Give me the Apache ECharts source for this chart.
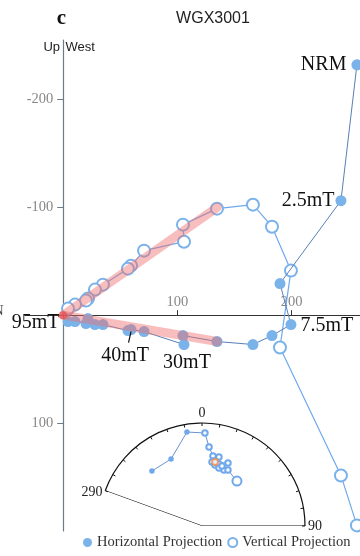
<!DOCTYPE html>
<html><head><meta charset="utf-8">
<script src="https://cdn.jsdelivr.net/npm/echarts@6/dist/echarts.min.js"></script>
<style>html,body{margin:0;padding:0;background:#fff}#c{width:360px;height:556px}</style>
</head><body><div id="c"></div>
<script>
// ---- Data ----
const steps = ['NRM','2.5mT','5mT','7.5mT','10mT','15mT','20mT','25mT','30mT','35mT','40mT','45mT','50mT','60mT','70mT','80mT','90mT','95mT'];
const north = [257.3,243.3,189.9,199.5,182.9,166.2,134.7,104.9,105.8,70.8,59.4,56.7,34.8,27.8,21.7,19.9,10.3,4.2];
const east  = [-232.0,-106.1,-29.3,8.7,18.9,27.2,24.4,18.9,27.2,15.2,13.3,14.3,8.7,8.7,3.1,7.8,5.9,5.9];
const down  = [194.8,148.5,30.0,-41.3,-82.0,-102.4,-98.7,-83.9,-68.1,-59.8,-45.9,-43.1,-28.3,-23.7,-15.4,-13.5,-9.8,-6.1];
const fitNorth = [0, 135];
const fitEast  = [0, 24.4];
const fitDown  = [0, -100];
const xTicks = [100, 200];
const yTicks = [-200, -100, 100];
const labeledSteps = ['NRM','2.5mT','7.5mT','30mT','40mT','95mT'];
// stereonet (equal-area) directions
const stereoDec = [317.7,335.2,350.9,1.8,5.1,8.9,10.5,8.9,13.8,12.0,13.4,15.3,22.4,16.3,21.4,18.4,24.9,37.9];
const stereoInc = [28.6,29.1,8.4,-10.6,-24.0,-31.7,-36.0,-37.2,-31.6,-39.3,-37.2,-37.6,-34.2,-41.0,-41.2,-38.5,-39.9,-44.0];
const meanDec = [11.5];
const meanInc = [-36.7];
const stereoRange = [-70, 90];          // 290° .. 90°
const stereoTickLabels = {'-70':'{l|290}','0':'0','90':'90'};

// ---- helpers ----
const serif = 'Liberation Serif';
const eqArea = inc => Math.sqrt(1 - Math.sin(Math.abs(inc) * Math.PI / 180));
const decAng = d => d > 180 ? d - 360 : d;

// axis extents / grid box
const xMin = -33.5, xMax = 260, yMin = -255, yMax = 200;
const G = {left:25, top:40, width:335, height:491};
const yAxisOffset = -((0 - xMin) / (xMax - xMin) * G.width);          // move y axis to x = 0
const xAxisOffset = -((yMax - 0) / (yMax - yMin) * G.height);         // move x axis to y = 0

const labelCfg = {
  'NRM':   {position:'left', distance:5},
  '2.5mT': {position:'left', distance:1},
  '7.5mT': {position:'right', distance:4, offset:[0,1]},
  '30mT':  {position:'bottom', distance:3, offset:[3,0]},
  '40mT':  {position:'bottom', distance:5, offset:[-6,6]},
  '95mT':  {position:'left', distance:3, offset:[0,1]}
};
const lblStyle = {show:true, fontFamily:serif, fontSize:20, color:'#111'};

const horizData = north.map((n,i) => {
  const it = {value:[n, east[i]]};
  if (labeledSteps.includes(steps[i])) {
    it.label = Object.assign({formatter: steps[i]}, lblStyle, labelCfg[steps[i]]);
  }
  return it;
});
const vertData = north.map((n,i) => [n, down[i]]);

const stereoData = stereoDec.map((d,i) => {
  const filled = stereoInc[i] > 0;
  return {
    value:[eqArea(stereoInc[i]), decAng(d)],
    symbol: filled ? 'circle' : 'emptyCircle',
    symbolSize: i === stereoDec.length-1 ? 9 : 5.5
  };
});

const chart = echarts.init(document.getElementById('c'), null, {renderer:'canvas'});
const blue = '#7ab2ea';
const option = {
  animation:false,
  backgroundColor:'#fff',
  grid:Object.assign({containLabel:false, outerBoundsMode:'none'}, G),
  xAxis:{
    type:'value', min:xMin, max:xMax, position:'bottom', offset:xAxisOffset,
    axisLine:{onZero:false, lineStyle:{color:'#333', width:1}},
    axisTick:{customValues:xTicks, inside:true, length:5, lineStyle:{color:'#333'}},
    axisLabel:{customValues:xTicks, inside:true, margin:5, color:'#888', fontFamily:serif, fontSize:14.5},
    splitLine:{show:false}
  },
  yAxis:{
    type:'value', inverse:true, min:yMin, max:yMax, position:'left', offset:yAxisOffset,
    axisLine:{onZero:false, lineStyle:{color:'#6b7b87', width:1.2}},
    axisTick:{customValues:yTicks, length:6, lineStyle:{color:'#6b7b87'}},
    axisLabel:{customValues:yTicks, margin:10, color:'#888', fontFamily:serif, fontSize:14.5},
    splitLine:{show:false}
  },
  polar:{center:[202,526], radius:103},
  angleAxis:{
    type:'value', min:stereoRange[0], max:stereoRange[1], interval:10,
    startAngle:160, endAngle:0, clockwise:true,
    axisLine:{lineStyle:{color:'#111', width:1.2}},
    axisTick:{inside:true, length:3, lineStyle:{color:'#111'}},
    axisLabel:{margin:3, color:'#222', fontFamily:serif, fontSize:14,
      formatter: v => stereoTickLabels[String(v)] || '',
      rich:{l:{fontFamily:serif, fontSize:14, color:'#222', padding:[0,0,-10,0]}}},
    splitLine:{show:false}, splitArea:{show:false}
  },
  radiusAxis:{type:'value', min:0, max:1, show:false},
  legend:{
    left:78, top:530, itemWidth:9, itemHeight:9, itemGap:5,
    textStyle:{fontFamily:serif, fontSize:14.5, color:'#333'},
    data:[{name:'Horizontal Projection', icon:'circle'},{name:'Vertical Projection', icon:'emptyCircle'}]
  },
  series:[
    {
      name:'Vertical Projection', type:'line', data:vertData,
      symbol:'emptyCircle', symbolSize:12,
      itemStyle:{color:blue, borderWidth:1.3},
      lineStyle:{color:'#6fa9ec', width:1.2}, z:3
    },
    {
      name:'Horizontal Projection', type:'line', data:horizData,
      symbol:'circle', symbolSize:11,
      itemStyle:{color:blue},
      lineStyle:{color:'#5a7fb6', width:1}, z:4,
      label:{show:false}
    },
    {
      name:'fitH', type:'line', data:fitNorth.map((n,i)=>[n, fitEast[i]]),
      symbol:'none', silent:true, z:6,
      lineStyle:{color:'rgba(240,110,110,0.45)', width:9, cap:'round'}
    },
    {
      name:'fitV', type:'line', data:fitNorth.map((n,i)=>[n, fitDown[i]]),
      symbol:'none', silent:true, z:6,
      lineStyle:{color:'rgba(240,110,110,0.45)', width:9, cap:'round'}
    },
    {
      name:'origin', type:'scatter', data:[[fitNorth[0], fitEast[0]]],
      symbolSize:8, silent:true, z:7,
      itemStyle:{color:'rgba(232,70,70,0.75)'}
    },
    {
      name:'sector', type:'line', coordinateSystem:'polar', silent:true,
      data:[[1, stereoRange[0]],[0, stereoRange[0]],[0, stereoRange[1]],[1, stereoRange[1]]],
      symbol:'none', lineStyle:{color:'#111', width:1.2}, z:2
    },
    {
      name:'stereo', type:'line', coordinateSystem:'polar', silent:true,
      data:stereoData, itemStyle:{color:'#6fa9ec', borderWidth:1.1},
      lineStyle:{color:'#6a93cc', width:1}, z:3
    },
    {
      name:'mean', type:'scatter', coordinateSystem:'polar', silent:true,
      data:meanDec.map((d,i)=>[eqArea(meanInc[i]), decAng(d)]),
      symbol:'emptyCircle', symbolSize:6, itemStyle:{color:'#f08c4c', borderWidth:1.3}, z:4
    }
  ],
  graphic:[
    {type:'text', id:'title', style:{text:'WGX3001', x:213, y:19, align:'center', verticalAlign:'middle', font:'16px "Liberation Sans"', fill:'#222'}},
    {type:'text', id:'panel', style:{text:'c', x:61.5, y:19, align:'center', verticalAlign:'middle', font:'bold 21px "Liberation Serif"', fill:'#111'}},
    {type:'text', id:'up', style:{text:'Up', x:60, y:47, align:'right', verticalAlign:'middle', font:'13px "Liberation Sans"', fill:'#222'}},
    {type:'text', id:'west', style:{text:'West', x:65.5, y:47, align:'left', verticalAlign:'middle', font:'13px "Liberation Sans"', fill:'#222'}},
    {type:'text', id:'nfrag', style:{text:'N', x:3.5, y:311, align:'right', verticalAlign:'middle', font:'14px "Liberation Serif"', fill:'#444'}}
  ]
};
chart.setOption(option);

// leader line for the 40mT label, from the point's pixel position
const i40 = steps.indexOf('40mT');
const p = chart.convertToPixel({gridIndex:0}, [north[i40], east[i40]]);
chart.setOption({graphic:[{type:'line', id:'lead40', shape:{x1:p[0], y1:p[1]+2, x2:p[0]-2.5, y2:p[1]+13}, style:{stroke:'#111', lineWidth:1.2}, z:10}]});
</script>
</body></html>
